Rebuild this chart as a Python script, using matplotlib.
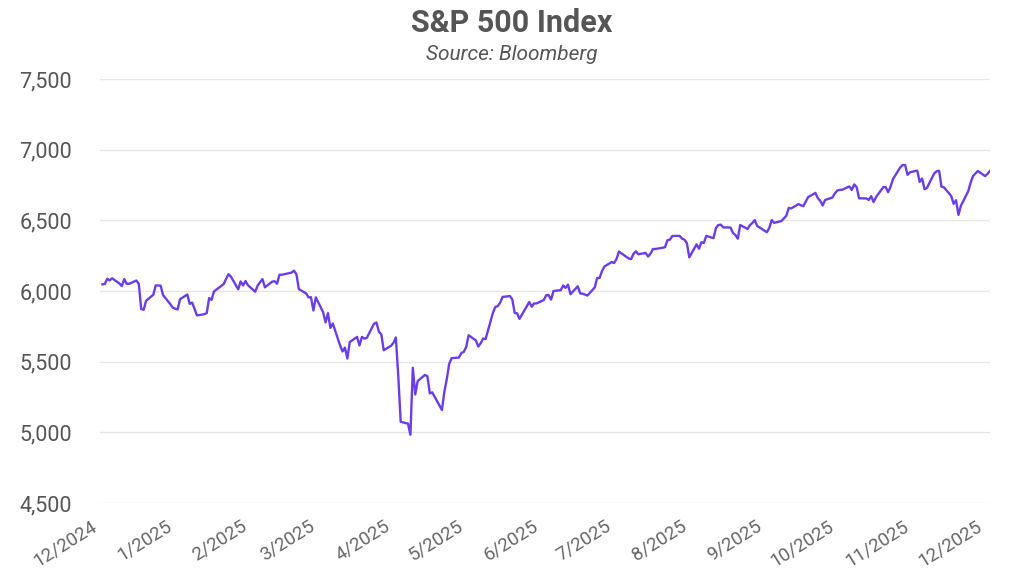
import matplotlib
matplotlib.use("Agg")
import matplotlib.pyplot as plt
import matplotlib.dates as mdates
import matplotlib.transforms as mtransforms
import pandas as pd

# ---------------- data (daily closes) ----------------
dec24_days = [2, 3, 4, 5, 6, 9, 10, 11, 12, 13, 16, 17, 18, 19, 20, 23, 24, 26, 27, 30, 31]
dec24_vals = [6047, 6050, 6087, 6075, 6090, 6053, 6035, 6084, 6051, 6051, 6074, 6051, 5872, 5867,
              5931, 5974, 6040, 6038, 5971, 5907, 5882]
jan_days = [2, 3, 6, 7, 8, 10, 13, 14, 15, 16, 17, 21, 22, 23, 24, 27, 28, 29, 30, 31]
jan_vals = [5869, 5942, 5975, 5909, 5918, 5827, 5836, 5843, 5950, 5937, 5997, 6049, 6086, 6119,
            6101, 6012, 6068, 6039, 6071, 6041]
feb_days = [3, 4, 5, 6, 7, 10, 11, 12, 13, 14, 18, 19, 20, 21, 24, 25, 26, 27, 28]
feb_vals = [5995, 6038, 6062, 6084, 6026, 6066, 6069, 6052, 6115, 6115, 6130, 6144, 6118, 6013,
            5983, 5955, 5956, 5862, 5955]
mar_days = [3, 4, 5, 6, 7, 10, 11, 12, 13, 14, 17, 18, 19, 20, 21, 24, 25, 26, 27, 28, 31]
mar_vals = [5850, 5778, 5843, 5739, 5770, 5615, 5572, 5599, 5522, 5639, 5675, 5615, 5675, 5663,
            5668, 5768, 5777, 5712, 5693, 5581, 5612]
apr_days = [1, 2, 3, 4, 7, 8, 9, 10, 11, 14, 15, 16, 17, 21, 22, 23, 24, 25, 28, 29, 30]
apr_vals = [5633, 5671, 5397, 5074, 5062, 4983, 5457, 5268, 5363, 5406, 5397, 5276, 5283, 5158,
            5288, 5376, 5485, 5525, 5529, 5561, 5569]
may_days = [1, 2, 5, 6, 7, 8, 9, 12, 13, 14, 15, 16, 19, 20, 21, 22, 23, 27, 28, 29, 30]
may_vals = [5604, 5687, 5650, 5607, 5631, 5664, 5660, 5844, 5887, 5893, 5917, 5958, 5964, 5941,
            5845, 5842, 5803, 5922, 5889, 5912, 5912]
jun_days = [2, 3, 4, 5, 6, 9, 10, 11, 12, 13, 16, 17, 18, 20, 23, 24, 25, 26, 27, 30]
jun_vals = [5936, 5970, 5971, 5939, 6000, 6006, 6039, 6022, 6045, 5977, 6033, 5983, 5981, 5968,
            6025, 6092, 6092, 6141, 6173, 6205]
jul_days = [1, 2, 3, 7, 8, 9, 10, 11, 14, 15, 16, 17, 18, 21, 22, 23, 24, 25, 28, 29, 30, 31]
jul_vals = [6198, 6227, 6279, 6230, 6226, 6263, 6281, 6260, 6269, 6244, 6264, 6297, 6297, 6306,
            6310, 6359, 6363, 6389, 6390, 6371, 6363, 6339]
aug_days = [1, 4, 5, 6, 7, 8, 11, 12, 13, 14, 15, 18, 19, 20, 21, 22, 25, 26, 27, 28, 29]
aug_vals = [6238, 6330, 6299, 6345, 6340, 6390, 6374, 6446, 6467, 6469, 6450, 6449, 6411, 6396,
            6370, 6467, 6439, 6466, 6481, 6502, 6460]
sep_days = [2, 3, 4, 5, 8, 9, 10, 11, 12, 15, 16, 17, 18, 19, 22, 23, 24, 25, 26, 29, 30]
sep_vals = [6416, 6448, 6502, 6482, 6495, 6513, 6532, 6588, 6584, 6615, 6607, 6600, 6632, 6664,
            6694, 6657, 6638, 6605, 6644, 6661, 6689]
oct_days = [1, 2, 3, 6, 7, 8, 9, 10, 13, 14, 15, 16, 17, 20, 21, 22, 23, 24, 27, 28, 29, 30, 31]
oct_vals = [6711, 6715, 6716, 6740, 6715, 6754, 6735, 6656, 6655, 6644, 6671, 6629, 6664, 6735,
            6735, 6699, 6738, 6792, 6875, 6891, 6891, 6822, 6840]
nov_days = [3, 4, 5, 6, 7, 10, 11, 12, 13, 14, 17, 18, 19, 20, 21, 24, 25, 26, 28]
nov_vals = [6852, 6772, 6796, 6720, 6729, 6832, 6847, 6851, 6738, 6734, 6672, 6617, 6642, 6539,
            6603, 6705, 6766, 6813, 6849]
dec25_days = [1, 2, 3]
dec25_vals = [6813, 6829, 6850]

months = [
    ("2024-12", dec24_days, dec24_vals), ("2025-01", jan_days, jan_vals),
    ("2025-02", feb_days, feb_vals), ("2025-03", mar_days, mar_vals),
    ("2025-04", apr_days, apr_vals), ("2025-05", may_days, may_vals),
    ("2025-06", jun_days, jun_vals), ("2025-07", jul_days, jul_vals),
    ("2025-08", aug_days, aug_vals), ("2025-09", sep_days, sep_vals),
    ("2025-10", oct_days, oct_vals), ("2025-11", nov_days, nov_vals),
    ("2025-12", dec25_days, dec25_vals),
]

tick_labels = ["12/2024", "1/2025", "2/2025", "3/2025", "4/2025", "5/2025", "6/2025",
               "7/2025", "8/2025", "9/2025", "10/2025", "11/2025", "12/2025"]
y_ticks = [4500, 5000, 5500, 6000, 6500, 7000, 7500]

dates, closes = [], []
for ym, days, vals in months:
    for d, v in zip(days, vals):
        dates.append(pd.Timestamp(f"{ym}-{d:02d}"))
        closes.append(v)

tick_dates = [pd.Timestamp(f"{ym}-01") for ym, _, _ in months]

# ---------------- figure ----------------
plt.rcParams['font.family'] = ['Roboto', 'DejaVu Sans']
fig = plt.figure(figsize=(10.24, 5.88), dpi=100)
ax = fig.add_axes([100 / 1024, 1 - 503 / 588, 890 / 1024, (503 - 79) / 588])

ax.plot(dates, closes, color="#6a3de8", linewidth=1.7, solid_joinstyle="round")

ax.set_ylim(4500, 7500)
ax.set_yticks(y_ticks)
ax.set_yticklabels([f"{v:,}" for v in y_ticks])
ax.set_xlim(pd.Timestamp("2024-12-01"), dates[-1])
ax.set_xticks(tick_dates)
ax.set_xticklabels(tick_labels, rotation=32, ha="right")

# nudge x tick labels slightly to the right
offset = mtransforms.ScaledTranslation(3 / 100, 0, fig.dpi_scale_trans)
for lbl in ax.get_xticklabels():
    lbl.set_transform(lbl.get_transform() + offset)

ax.grid(axis="y", color="#e6e6e6", linewidth=1)
ax.set_axisbelow(True)
for s in ax.spines.values():
    s.set_visible(False)
ax.tick_params(axis="y", length=0, pad=20, labelsize=15.5, labelcolor="#555555")
ax.tick_params(axis="x", length=0, pad=10, labelsize=13.5, labelcolor="#666666")

fig.text(0.5, 1 - 23 / 588, "S&P 500 Index", ha="center", va="center",
         fontsize=22, fontweight="bold", color="#555555")
fig.text(0.5, 1 - 55 / 588, "Source: Bloomberg", ha="center", va="center",
         fontsize=15, fontstyle="italic", color="#555555")

fig.savefig("out.png", dpi=100)
